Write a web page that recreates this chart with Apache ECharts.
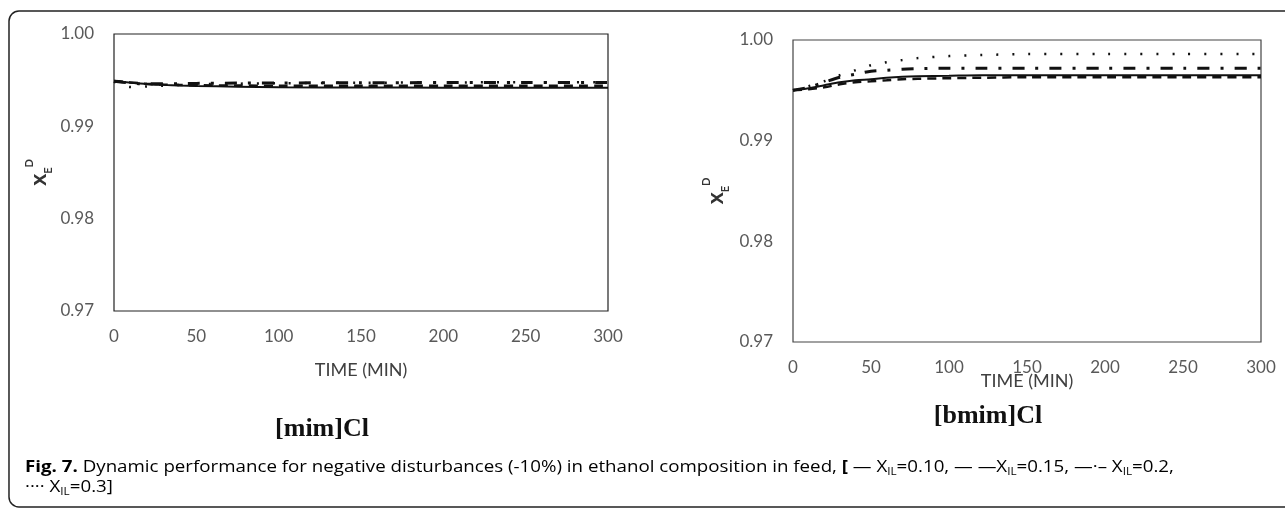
<!DOCTYPE html>
<html>
<head>
<meta charset="utf-8">
<script src="https://cdn.jsdelivr.net/npm/echarts@6/dist/echarts.min.js"></script>
<style>
  html, body { margin: 0; padding: 0; background: #fff; }
  #chart { width: 1285px; height: 510px; }
</style>
</head>
<body>
<div id="chart"></div>
<script>
// ---------- data ----------
const xTicks = [0, 50, 100, 150, 200, 250, 300];
const yTicks = [0.97, 0.98, 0.99, 1.00];

// [mim]Cl panel (left)
const timeMim = [0, 5, 10, 15, 20, 30, 40, 50, 75, 100, 150, 200, 250, 300];
const mimIL010 = [0.99490, 0.99482, 0.99472, 0.99464, 0.99457, 0.99449, 0.99442, 0.99437, 0.99430, 0.99424, 0.99420, 0.99419, 0.99418, 0.99418];
const mimIL015 = [0.99490, 0.99484, 0.99476, 0.99468, 0.99460, 0.99452, 0.99448, 0.99445, 0.99442, 0.99440, 0.99440, 0.99440, 0.99440, 0.99440];
const mimIL020 = [0.99488, 0.99478, 0.99468, 0.99462, 0.99460, 0.99460, 0.99462, 0.99465, 0.99468, 0.99470, 0.99472, 0.99474, 0.99475, 0.99475];
const mimIL030 = [0.99485, 0.99445, 0.99425, 0.99425, 0.99432, 0.99440, 0.99448, 0.99455, 0.99462, 0.99467, 0.99472, 0.99475, 0.99478, 0.99478];

// [bmim]Cl panel (right)
const timeBmim = [0, 10, 20, 30, 40, 50, 60, 70, 80, 100, 120, 150, 200, 250, 300];
const bmimIL010 = [0.9950, 0.9952, 0.9955, 0.9958, 0.9960, 0.9961, 0.99625, 0.99635, 0.9964, 0.99645, 0.9965, 0.9965, 0.9965, 0.9965, 0.9965];
const bmimIL015 = [0.9950, 0.9951, 0.9953, 0.9956, 0.9958, 0.9959, 0.9960, 0.9961, 0.99615, 0.9962, 0.99625, 0.9963, 0.9963, 0.9963, 0.9963];
const bmimIL020 = [0.9950, 0.9953, 0.9958, 0.9963, 0.9966, 0.9969, 0.9970, 0.9971, 0.99715, 0.9972, 0.9972, 0.9972, 0.9972, 0.9972, 0.9972];
const bmimIL030 = [0.9950, 0.9954, 0.9959, 0.9965, 0.9970, 0.9975, 0.9978, 0.9980, 0.9982, 0.9984, 0.9985, 0.9986, 0.9986, 0.9986, 0.9986];

const panelTitles = ['[mim]Cl', '[bmim]Cl'];
const xAxisTitle = 'TIME (MIN)';

// ---------- helpers ----------
const zip = (t, v) => t.map((x, i) => [x, v[i]]);
const styles = [
  { type: 'solid', width: 2 },
  { type: [9, 6], width: 2.5 },
  { type: [12, 11, 3, 11], width: 3 },
  { type: [2, 14], width: 2.5 }
];
function mkSeries(idx, time, vals, name) {
  const s = styles[name];
  return {
    type: 'line', xAxisIndex: idx, yAxisIndex: idx,
    data: zip(time, vals), showSymbol: false, smooth: 0.3,
    lineStyle: { color: '#111', width: s.width, type: s.type },
    silent: true, animation: false
  };
}

const tickFont = { fontFamily: 'Lato', fontSize: 17, color: '#595959' };

function xAx(idx, gap) {
  return {
    type: 'value', gridIndex: idx, min: 0, max: 300, interval: 50,
    axisLine: { show: false }, axisTick: { show: false }, splitLine: { show: false },
    axisLabel: Object.assign({ margin: 17 }, tickFont),
    name: xAxisTitle, nameLocation: 'middle', nameGap: gap, nameMoveOverlap: false,
    nameTextStyle: { fontFamily: 'Lato', fontSize: 18, color: '#404040' }
  };
}
const yRich = {
  x: { fontFamily: 'Lato', fontSize: 23, fontWeight: 'bold', color: '#333', lineHeight: 30, verticalAlign: 'middle' },
  sub: { fontFamily: 'Lato', fontSize: 11, fontWeight: 'bold', color: '#333', lineHeight: 11, verticalAlign: 'bottom' },
  sup: { fontFamily: 'Lato', fontSize: 11, fontWeight: 'bold', color: '#333', lineHeight: 11, verticalAlign: 'top' }
};
function yAx(idx, gap) {
  return {
    type: 'value', gridIndex: idx, min: 0.97, max: 1.0, interval: 0.01,
    axisLine: { show: false }, axisTick: { show: false }, splitLine: { show: false },
    axisLabel: Object.assign({ margin: 20, formatter: v => v.toFixed(2) }, tickFont),
    name: '{x|x}{sub|E}{sup|D}', nameLocation: 'middle', nameGap: gap, nameRotate: 90,
    nameMoveOverlap: false,
    nameTextStyle: { rich: yRich }
  };
}

const capBase = { fontFamily: 'Open Sans', fontSize: 16, color: '#231f20', lineHeight: 20, verticalAlign: 'middle' };
const capRich = {
  n: capBase,
  b: Object.assign({}, capBase, { fontWeight: 'bold' }),
  s: { fontFamily: 'Open Sans', fontSize: 10, color: '#231f20', lineHeight: 10, verticalAlign: 'bottom' }
};
const line1 = '{b|Fig. 7.}{n| Dynamic performance for negative disturbances (-10%) in ethanol composition in feed, }{b|[}{n| — X}{s|IL}{n|=0.10, — —X}{s|IL}{n|=0.15, —·– X}{s|IL}{n|=0.2,}';
const line2 = '{n|···· X}{s|IL}{n|=0.3]}';

const chart = echarts.init(document.getElementById('chart'), null, { renderer: 'canvas' });
chart.setOption({
  animation: false,
  backgroundColor: '#fff',
  grid: [
    { left: 114, top: 34, width: 494, height: 277, show: true, borderColor: '#222', borderWidth: 1.2, containLabel: false },
    { left: 793, top: 40, width: 468, height: 302, show: true, borderColor: '#444', borderWidth: 1.2, containLabel: false }
  ],
  xAxis: [xAx(0, 50), xAx(1, 30)],
  yAxis: [yAx(0, 60), yAx(1, 62)],
  series: [
    mkSeries(0, timeMim, mimIL010, 0),
    mkSeries(0, timeMim, mimIL015, 1),
    mkSeries(0, timeMim, mimIL020, 2),
    mkSeries(0, timeMim, mimIL030, 3),
    mkSeries(1, timeBmim, bmimIL010, 0),
    mkSeries(1, timeBmim, bmimIL015, 1),
    mkSeries(1, timeBmim, bmimIL020, 2),
    mkSeries(1, timeBmim, bmimIL030, 3)
  ],
  graphic: [
    { type: 'rect', shape: { x: 9, y: 11, width: 1300, height: 496, r: 10 },
      style: { fill: 'none', stroke: '#222', lineWidth: 1.5 }, silent: true },
    { type: 'text', x: 322, y: 429,
      style: { text: panelTitles[0], font: 'bold 26px "Liberation Serif"', fill: '#111', textAlign: 'center', textVerticalAlign: 'middle' } },
    { type: 'text', x: 988, y: 416,
      style: { text: panelTitles[1], font: 'bold 26px "Liberation Serif"', fill: '#111', textAlign: 'center', textVerticalAlign: 'middle' } },
    { type: 'text', x: 25, y: 467, scaleX: 1.17,
      style: { text: line1, rich: capRich, textVerticalAlign: 'middle' } },
    { type: 'text', x: 25, y: 487, scaleX: 1.17,
      style: { text: line2, rich: capRich, textVerticalAlign: 'middle' } }
  ]
});
</script>
</body>
</html>
